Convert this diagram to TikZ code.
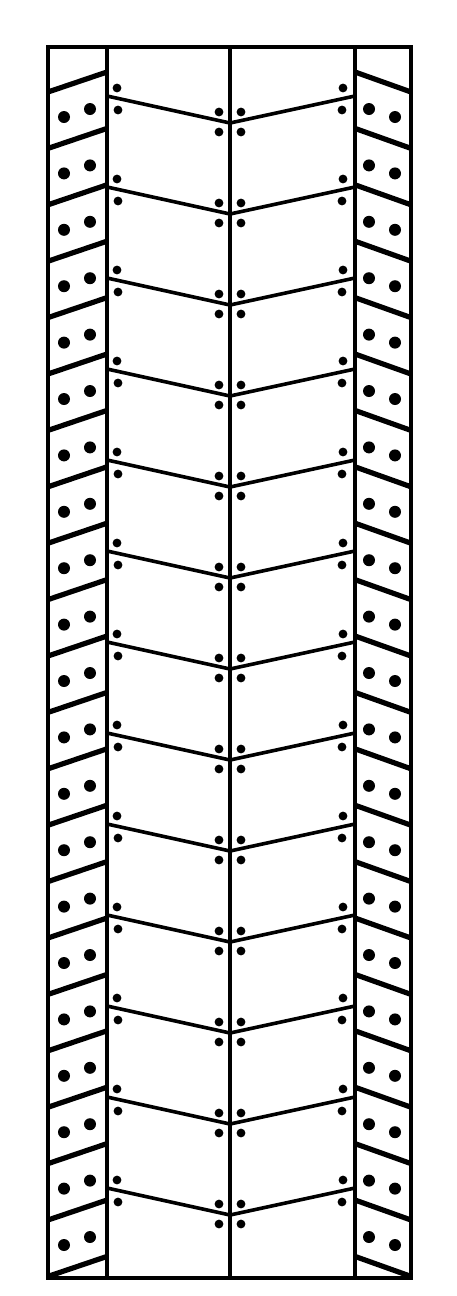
\documentclass[tikz,border=0pt]{standalone}
\begin{document}
\begin{tikzpicture}[x=1pt,y=-1pt,
	frame/.style={line width=4.6pt},
	rib/.style={line width=5.2pt},
	sipe/.style={line width=3.6pt},
	stud/.style={fill=black},
	pin/.style={fill=black}]
	\useasboundingbox[fill=white] (0,0) rectangle (456,1296);
	\begin{scope}
		\clip (48,47) rectangle (411,1278);
		\foreach \k [evaluate=\k as \ya using 92+56.4*\k] in {0,...,21}{
			\draw[rib] (48,\ya) -- (107,\ya-20);
			\draw[rib] (411,\ya) -- (355,\ya-20);
		}
	\end{scope}
	\foreach \k [evaluate=\k as \yb using 117+56.4*\k] in {0,...,20}{
		\fill[stud] (64,\yb) circle (6pt) (90,\yb-8) circle (6pt);
		\fill[stud] (395,\yb) circle (6pt) (369,\yb-8) circle (6pt);
	}
	\foreach \k [evaluate=\k as \yc using 96+91*\k] in {0,...,12}{
		\draw[sipe] (107,\yc) -- (230,\yc+27) -- (355,\yc);
		\fill[pin] (117,\yc-8) circle (4.4pt) (118,\yc+14) circle (4.4pt)
			(219,\yc+16) circle (4.4pt) (219,\yc+36) circle (4.4pt)
			(241,\yc+16) circle (4.4pt) (241,\yc+36) circle (4.4pt)
			(343,\yc-8) circle (4.4pt) (342,\yc+14) circle (4.4pt);
	}
	\draw[frame] (48,47) rectangle (411,1278);
	\draw[frame] (107,47) -- (107,1278) (230,47) -- (230,1278) (355,47) -- (355,1278);
\end{tikzpicture}
\end{document}
